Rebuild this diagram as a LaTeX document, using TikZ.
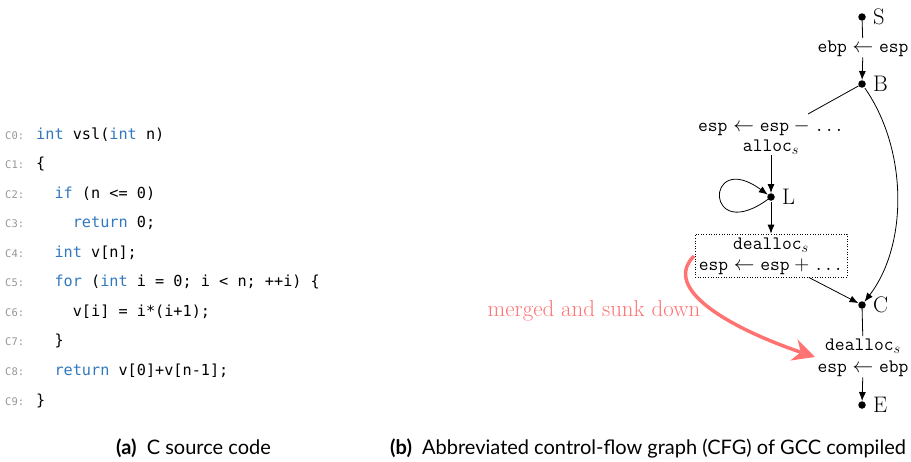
\documentclass[tikz,border=0pt]{standalone}
\usepackage{fontspec}
\newfontfamily\codefont{DejaVu Sans Mono}
\newfontfamily\capfont{Lato}
\usetikzlibrary{arrows.meta}
\definecolor{kw}{RGB}{50,120,190}
\definecolor{lnum}{RGB}{150,150,150}
\definecolor{salmon}{RGB}{255,115,115}
\tikzset{
  dot/.style={circle,fill=black,inner sep=0pt,minimum size=7.5pt},
  lbl/.style={font=\fontsize{22.5}{24}\selectfont,inner sep=0pt},
  gtxt/.style={font=\fontsize{21}{21.5}\selectfont,anchor=base,inner sep=0pt},
  code/.style={font=\codefont\fontsize{15.2}{18}\selectfont,anchor=base west,inner sep=0pt},
  lnr/.style={font=\codefont\fontsize{10.5}{12}\selectfont,text=lnum,anchor=base west,inner sep=0pt},
  arr/.style={-{Latex[length=9pt,width=7pt]},line width=0.8pt,shorten <=1pt},
  ln/.style={line width=0.8pt},
  captxt/.style={font=\capfont\fontsize{20}{22}\selectfont,anchor=base west,inner sep=0pt}
}
\newcommand{\kw}[1]{\textcolor{kw}{#1}}
\newcommand{\tx}[1]{\hbox{\fontsize{19}{21}\selectfont\ttfamily #1}}
\begin{document}
\begin{tikzpicture}[x=1pt,y=-1pt]
\useasboundingbox (0,0) rectangle (911,461);
\clip (0,0) rectangle (911,461);
% code
\foreach \i/\yy in {0/139,1/168,2/198,3/227,4/257,5/286,6/316,7/345,8/375,9/405}{
  \node[lnr] (n\i) at (5,\yy) {C\i:};
}
\node[code] (c0) at (36,139) {\kw{int} vsl(\kw{int} n)};
\node[code] (c1) at (36,168) {\{};
\node[code] (c2) at (36,198) {\ \ \kw{if} (n <= 0)};
\node[code] (c3) at (36,227) {\ \ \ \ \kw{return} 0;};
\node[code] (c4) at (36,257) {\ \ \kw{int} v[n];};
\node[code] (c5) at (36,286) {\ \ \kw{for} (\kw{int} i = 0; i < n; ++i) \{};
\node[code] (c6) at (36,316) {\ \ \ \ v[i] = i*(i+1);};
\node[code] (c7) at (36,345) {\ \ \}};
\node[code] (c8) at (36,375) {\ \ \kw{return} v[0]+v[n-1];};
\node[code] (c9) at (36,405) {\}};
% graph
\node[dot,label={[lbl,xshift=7pt]right:S}] (S) at (862,17) {};
\node[gtxt] (t1) at (863,52) {$\tx{ebp}\leftarrow\tx{esp}$};
\node[dot,label={[lbl,xshift=7pt]right:B}] (B) at (862,84) {};
\node[gtxt] (t2a) at (771,131) {$\tx{esp}\leftarrow\tx{esp}-\tx{...}$};
\node[gtxt] (t2b) at (771,151) {$\tx{alloc}_s$};
\coordinate (a2) at (808,114);
\node[dot,label={[lbl,xshift=7pt]right:L}] (L) at (771,197) {};
\node[draw,dotted,line width=0.6pt,minimum width=152pt,minimum height=43pt,inner sep=0pt] (box) at (771,255.5) {};
\node[gtxt] (t3a) at (771,249) {$\tx{dealloc}_s$};
\node[gtxt] (t3b) at (771,270.5) {$\tx{esp}\leftarrow\tx{esp}+\tx{...}$};
\coordinate (a3) at (808,277);
\node[dot,label={[lbl,xshift=7pt]right:C}] (C) at (862,305) {};
\node[gtxt] (t4a) at (863,350) {$\tx{dealloc}_s$};
\node[gtxt] (t4b) at (863,372) {$\tx{esp}\leftarrow\tx{ebp}$};
\node[dot,label={[lbl,xshift=7pt]right:E}] (E) at (862,405) {};

\draw[ln,shorten >=2pt] (S) -- (t1);
\draw[arr] (t1) -- (B);
\draw[ln] (B) -- (a2);
\draw[arr] (t2b) -- (L);
\draw[arr] (L.center) .. controls (704,248) and (704,148) .. (L);
\draw[arr] (L) -- (box);
\draw[arr] (a3) -- (C);
\draw[arr] (B) .. controls (908,150) and (908,245) .. (C);
\draw[ln,shorten >=2pt] (C) -- (t4a);
\draw[arr] (t4b) -- (E);

\coordinate (r0) at (694,256);
\coordinate (r1) at (815,357);
\draw[salmon,line width=3.5pt,-{Stealth[length=22pt,width=22pt,inset=7pt]}] (r0) .. controls (660,290) and (735,330) .. (r1);
\node[font=\fontsize{22.9}{24}\selectfont,text=salmon,inner sep=0pt] (m) at (594,311) {merged and sunk down};

% captions
\node[captxt] (ca) at (116,454) {\textbf{(a)}\ \ C source code};
\node[captxt] (cb) at (390,454) {\textbf{(b)}\ \ Abbreviated control-flow graph (CFG) of GCC \mbox{compiled}};
\end{tikzpicture}
\end{document}
